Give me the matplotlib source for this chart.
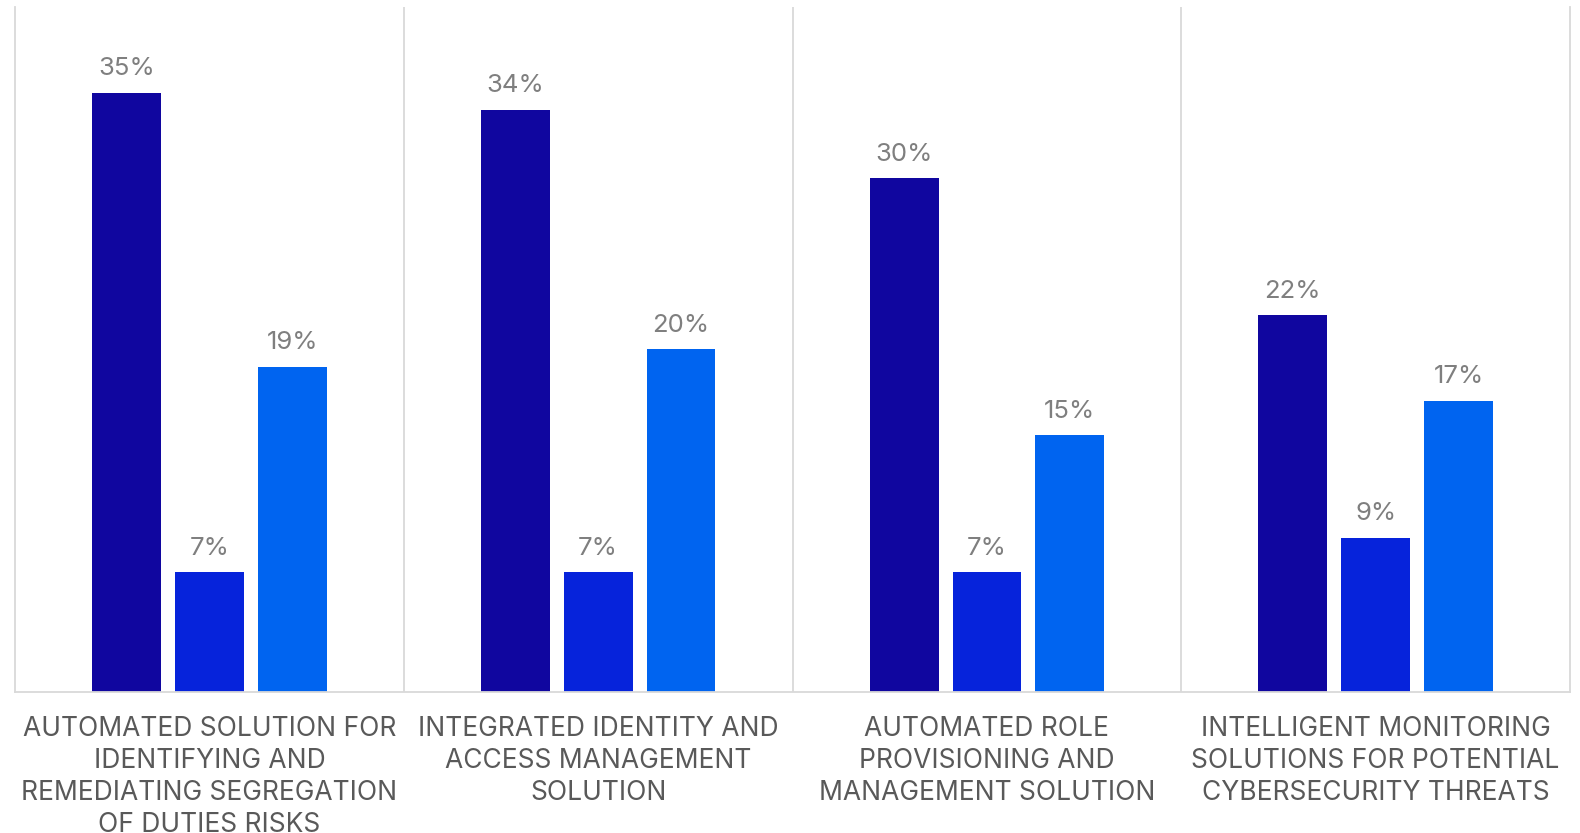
import numpy as np
import matplotlib.pyplot as plt

plt.rcParams['font.family'] = ['Inter', 'DejaVu Sans']

categories = [
    "AUTOMATED SOLUTION FOR\nIDENTIFYING AND\nREMEDIATING SEGREGATION\nOF DUTIES RISKS",
    "INTEGRATED IDENTITY AND\nACCESS MANAGEMENT\nSOLUTION",
    "AUTOMATED ROLE\nPROVISIONING AND\nMANAGEMENT SOLUTION",
    "INTELLIGENT MONITORING\nSOLUTIONS FOR POTENTIAL\nCYBERSECURITY THREATS",
]
series_a = [35, 34, 30, 22]
series_b = [7, 7, 7, 9]
series_c = [19, 20, 15, 17]

colors = ["#10069F", "#0623DB", "#0064F0"]

fig = plt.figure(figsize=(15.8, 8.33), dpi=100)
ax = fig.add_axes([0.0095, 0.1693, 0.9842, 0.8223])

x = np.arange(len(categories))
w = 0.177
step = 0.213
for k, (vals, c) in enumerate(zip([series_a, series_b, series_c], colors)):
    bars = ax.bar(x + (k - 1) * step, vals, width=w, color=c)
    for b, v in zip(bars, vals):
        ax.annotate(f"{v}%", (b.get_x() + b.get_width() / 2, v),
                    xytext=(0, 9), textcoords="offset points",
                    ha="center", va="bottom", fontsize=18.5, color="#7f7f7f")

ax.set_xlim(-0.5, len(categories) - 0.5)
ax.set_ylim(0, 40)

# separators between category groups
for s in np.arange(0.5, len(categories) - 0.5, 1):
    ax.axvline(s, color="#d9d9d9", lw=1.3)

for side in ["left", "right", "bottom"]:
    ax.spines[side].set_color("#d9d9d9")
    ax.spines[side].set_linewidth(1.3)
ax.spines["top"].set_visible(False)

ax.set_yticks([])
ax.set_xticks(x)
ax.set_xticklabels(categories, fontsize=19, color="#595959", linespacing=1.31)
ax.tick_params(axis="x", length=0, pad=17)

fig.savefig("out.png", dpi=100)
